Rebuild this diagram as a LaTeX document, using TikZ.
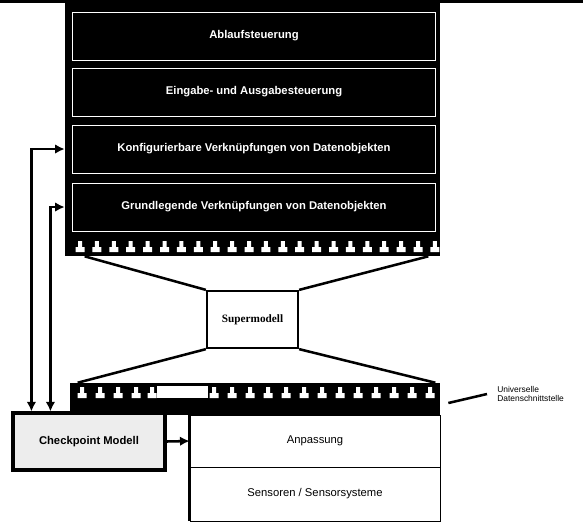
\documentclass[tikz,border=0pt]{standalone}
\usepackage{fontspec}
\setmainfont{Liberation Sans}
\newfontfamily\modelfont{Liberation Serif}
\usetikzlibrary{arrows.meta, calc}
\colorlet{linecolor}{black}
\colorlet{layerfill}{black}
\colorlet{checkfill}{black!7}
\tikzset{
  layer/.style={
    draw=white,
    line width=0.7pt,
    fill=layerfill,
    text=white,
    minimum width=9.05cm,
    minimum height=1.2cm,
    inner sep=0pt,
    font=\fontsize{8}{9}\selectfont\bfseries
  },
  plug/.style={fill=linecolor, inner sep=0pt},
  model/.style={
    draw=linecolor,
    line width=1.6pt,
    fill=white,
    minimum width=2.275cm,
    minimum height=1.425cm,
    font=\modelfont\fontsize{8}{9}\selectfont\bfseries
  },
  checkbox/.style={
    draw=linecolor,
    line width=2.2pt,
    fill=checkfill,
    minimum width=3.8cm,
    minimum height=1.425cm,
    font=\fontsize{8}{9}\selectfont\bfseries
  },
  app/.style={
    draw=linecolor,
    line width=0.6pt,
    minimum width=6.25cm,
    inner sep=0pt,
    font=\fontsize{8}{9}\selectfont
  },
  funnel/.style={line width=1.8pt, draw=linecolor},
  arr/.style={-{Latex[length=2.4mm,width=2.4mm]}, line width=1.8pt, draw=linecolor},
  dblarr/.style={{Latex[length=2.4mm,width=2.4mm]}-{Latex[length=2.4mm,width=2.4mm]}, line width=1.8pt, draw=linecolor},
  note/.style={font=\fontsize{6}{6.5}\selectfont, align=left, inner sep=0pt}
}

\begin{document}
\begin{tikzpicture}[x=0.025cm, y=-0.025cm]
\useasboundingbox (0,0) rectangle (583,522);
\fill[linecolor] (0,0) rectangle (583,3);

% upper stack
\node[plug, minimum width=9.375cm, minimum height=6.325cm] (blk) at (252.5,129.5) {};
\node[layer] (ablauf) at (254,36) {Ablaufsteuerung};
\node[layer] (eingabe) at (254,92) {Eingabe- und Ausgabesteuerung};
\node[layer] (konfig) at (254,149) {Konfigurierbare Verknüpfungen von Datenobjekten};
\node[layer] (grundl) at (254,207) {Grundlegende Verknüpfungen von Datenobjekten};
\foreach \i in {0,...,21} {
  \pgfmathsetmacro\tx{80+\i*16.9}
  \fill[white] (\tx-4.5,252) -- (\tx-4.5,247) -- (\tx-2,247) -- (\tx-2,241)
    -- (\tx+2,241) -- (\tx+2,247) -- (\tx+4.5,247) -- (\tx+4.5,252) -- cycle;
}

% supermodel
\node[model] (super) at (252.5,319.5) {Supermodell};
\draw[funnel] ($(blk.south west)+(20,0)$) -- (super.north west);
\draw[funnel] ($(blk.south east)+(-12,0)$) -- (super.north east);

% universal data interface
\node[plug, minimum width=9.25cm, minimum height=0.8cm] (bus) at (255,399) {};
\fill[white] (157,386) rectangle (208,398);
\foreach \tx in {82,100,118,136,152,214,232,250,268,286,304,322,340,358,376,394,412,430} {
  \fill[white] (\tx-4.5,398) -- (\tx-4.5,393) -- (\tx-2,393) -- (\tx-2,387)
    -- (\tx+2,387) -- (\tx+2,393) -- (\tx+4.5,393) -- (\tx+4.5,398) -- cycle;
}
\draw[funnel] (super.south west) -- ($(bus.north west)+(8,0)$);
\draw[funnel] (super.south east) -- ($(bus.north east)+(-5,0)$);

\node[note, anchor=west] (dsnote) at (497,394) {Universelle\\Datenschnittstelle};
\draw[funnel] ($(dsnote.west)+(-10,0)$) -- ($(bus.east)+(8,4)$);

% checkpoint and application
\node[checkbox] (checkpt) at (89,441.5) {Checkpoint Modell};
\node[app, minimum height=1.3cm] (anpass) at (315,441) {Anpassung};
\node[app, minimum height=1.35cm] (sensor) at (315,494) {Sensoren / Sensorsysteme};
\draw[line width=2pt] (anpass.north west) -- (sensor.south west);

\coordinate (cpA) at ($(checkpt.north west)+(20,0)$);
\coordinate (cpB) at ($(checkpt.north west)+(39,0)$);
\draw[dblarr] (blk.west |- konfig.west) -| (cpA);
\draw[dblarr] (blk.west |- grundl.west) -| (cpB);
\draw[arr] (checkpt.east) -- (anpass.west);

\end{tikzpicture}
\end{document}
